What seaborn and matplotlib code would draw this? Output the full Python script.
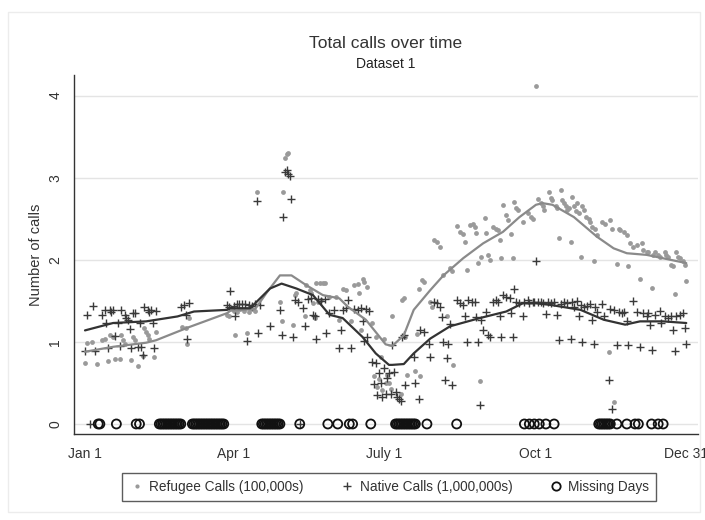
import numpy as np
import pandas as pd
import seaborn as sns
import matplotlib.pyplot as plt
from matplotlib.lines import Line2D
from matplotlib.patches import Rectangle

# day of year (0 = Jan 1) and values
ref_day = [0, 1, 4, 7, 10, 12, 14, 15, 17, 18, 21, 22, 23, 24, 28, 29, 30, 32, 35, 36,
           37, 38, 39, 42, 43, 59, 61, 62, 63, 86, 87, 89, 90, 91, 92, 94, 96, 98, 99, 101,
           103, 104, 118, 119, 120, 121, 122, 123, 126, 127, 128, 133, 134, 136, 137, 138, 139, 140, 141, 142,
           143, 144, 145, 148, 152, 154, 156, 158, 161, 163, 165, 166, 167, 168, 169, 171, 174, 175, 176, 177,
           178, 179, 180, 181, 182, 183, 184, 185, 186, 191, 192, 193, 194, 195, 200, 201, 202, 203, 204, 205,
           209, 210, 211, 213, 215, 217, 219, 221, 222, 223, 225, 227, 229, 230, 231, 233, 235, 236, 237, 238,
           239, 240, 242, 243, 244, 245, 247, 249, 250, 251, 252, 253, 255, 256, 258, 259, 260, 261, 262, 265,
           268, 270, 271, 273, 274, 276, 277, 278, 281, 282, 283, 285, 286, 287, 288, 289, 290, 291, 292, 293,
           294, 295, 296, 297, 298, 299, 300, 301, 302, 303, 305, 306, 307, 308, 309, 310, 313, 315, 317, 318,
           319, 320, 322, 323, 324, 326, 328, 329, 330, 332, 334, 336, 337, 338, 340, 341, 343, 344, 345, 347,
           348, 351, 352, 353, 355, 356, 357, 358, 359, 360, 362, 363, 364]
ref_val = [0.74, 0.99, 1.00, 0.73, 1.02, 1.03, 0.77, 1.08, 1.06, 0.79, 0.79, 1.08, 1.02, 0.98, 0.78, 1.06, 1.02, 0.71, 0.83, 1.17,
           1.12, 1.08, 1.04, 0.82, 1.12, 1.18, 1.17, 0.97, 1.29, 1.33, 1.31, 1.41, 1.38, 1.08, 1.36, 1.40, 1.38, 1.11, 1.37, 1.40,
           1.38, 2.82, 1.48, 1.25, 2.82, 3.24, 3.29, 3.30, 1.21, 1.57, 1.59, 1.32, 1.69, 1.63, 1.59, 1.47, 1.29, 1.72, 1.49, 1.72,
           1.51, 1.72, 1.72, 1.55, 1.55, 1.27, 1.65, 1.63, 1.26, 1.69, 1.71, 1.59, 1.14, 1.77, 1.73, 1.67, 1.23, 0.58, 1.06, 0.45,
           0.55, 0.82, 0.41, 1.04, 0.50, 0.60, 0.50, 0.43, 1.31, 0.37, 1.51, 1.53, 1.06, 0.60, 0.64, 1.10, 1.65, 0.58, 1.75, 1.73,
           1.49, 1.43, 2.24, 2.22, 2.16, 1.81, 1.31, 1.90, 1.86, 0.72, 2.41, 2.34, 2.32, 2.22, 1.88, 2.42, 2.44, 2.40, 2.33, 1.96,
           0.52, 2.04, 2.51, 2.33, 2.06, 2.00, 2.40, 2.38, 2.36, 2.24, 2.02, 2.67, 2.55, 2.48, 2.32, 2.02, 2.71, 2.63, 2.61, 2.46,
           2.57, 2.52, 2.50, 4.12, 2.74, 2.69, 2.65, 2.61, 2.83, 2.75, 2.73, 2.65, 2.63, 2.26, 2.85, 2.73, 2.69, 2.65, 2.61, 2.63,
           2.22, 2.77, 2.65, 2.59, 2.69, 2.57, 2.03, 2.65, 2.61, 2.52, 2.50, 2.46, 2.40, 1.98, 2.38, 2.30, 2.46, 2.44, 0.88, 2.48,
           2.38, 0.27, 1.95, 2.38, 2.36, 2.34, 2.30, 1.93, 2.21, 2.16, 2.18, 1.77, 2.20, 2.12, 2.10, 2.10, 1.66, 2.06, 2.10, 2.06,
           2.04, 2.10, 2.06, 2.04, 1.94, 1.92, 1.58, 2.10, 2.04, 2.02, 1.98, 1.94, 1.74]

nat_day = [0, 1, 3, 5, 6, 10, 12, 13, 14, 15, 16, 17, 18, 20, 21, 22, 24, 25, 26, 27,
           28, 29, 30, 32, 33, 34, 35, 36, 38, 39, 40, 41, 42, 43, 58, 60, 61, 62, 63, 86,
           87, 88, 90, 91, 92, 93, 95, 97, 98, 99, 101, 103, 104, 105, 106, 112, 118, 119, 120, 121,
           122, 123, 124, 125, 126, 127, 129, 130, 132, 133, 135, 137, 138, 139, 140, 141, 143, 145, 146, 148,
           151, 154, 155, 156, 158, 159, 161, 163, 165, 167, 168, 169, 170, 171, 172, 174, 175, 176, 177, 178,
           179, 180, 181, 182, 183, 184, 185, 186, 187, 188, 189, 190, 191, 192, 193, 194, 199, 200, 202, 203,
           205, 208, 209, 211, 213, 215, 216, 217, 218, 219, 220, 221, 222, 225, 227, 229, 230, 231, 232, 234,
           236, 237, 238, 239, 240, 241, 243, 244, 245, 247, 249, 250, 251, 252, 253, 255, 257, 258, 259, 260,
           261, 263, 265, 266, 268, 269, 271, 272, 273, 274, 276, 277, 279, 280, 282, 284, 286, 287, 288, 290,
           292, 294, 295, 296, 298, 299, 300, 301, 302, 304, 306, 307, 308, 309, 310, 313, 314, 317, 318, 319,
           320, 322, 323, 325, 326, 328, 329, 332, 334, 336, 338, 340, 341, 342, 343, 345, 348, 349, 351, 353,
           355, 356, 357, 358, 360, 362, 363, 364]
nat_val = [0.89, 1.33, 0.00, 1.44, 0.89, 1.33, 1.39, 1.23, 0.93, 1.39, 1.37, 1.39, 1.07, 1.23, 0.95, 1.39, 1.33, 1.29, 1.27, 1.16,
           0.93, 1.35, 1.35, 0.94, 1.23, 0.94, 0.84, 1.43, 1.39, 1.37, 1.39, 1.23, 0.93, 1.38, 1.43, 1.45, 1.33, 1.03, 1.47, 1.45,
           1.43, 1.62, 1.44, 1.31, 1.46, 1.46, 1.46, 1.46, 1.01, 1.45, 1.44, 1.46, 2.72, 1.11, 1.45, 1.19, 1.39, 1.08, 2.52, 3.07,
           3.09, 3.05, 3.02, 2.74, 1.06, 1.51, 1.49, 0.00, 1.41, 1.19, 1.52, 1.53, 1.33, 1.31, 1.03, 1.52, 1.50, 1.52, 1.11, 1.35,
           1.39, 0.93, 1.14, 1.39, 1.41, 1.51, 0.93, 1.40, 1.39, 1.41, 1.25, 1.01, 1.40, 1.06, 1.38, 0.75, 0.49, 0.74, 0.35, 0.62,
           0.50, 0.33, 0.68, 0.37, 0.56, 0.62, 0.37, 0.96, 0.63, 0.39, 0.33, 0.31, 0.28, 1.06, 1.08, 0.47, 0.82, 0.50, 0.30, 1.14,
           1.12, 0.98, 0.82, 1.49, 1.47, 1.43, 1.30, 1.00, 0.54, 0.80, 0.98, 1.22, 0.47, 1.51, 1.47, 1.45, 1.31, 1.00, 1.51, 1.49,
           1.49, 1.30, 1.00, 0.23, 1.27, 1.14, 1.37, 1.08, 1.06, 1.49, 1.51, 1.49, 1.31, 1.06, 1.57, 1.55, 1.53, 1.35, 1.06, 1.65,
           1.49, 1.47, 1.32, 1.49, 1.51, 1.47, 1.49, 1.48, 1.98, 1.49, 1.48, 1.47, 1.34, 1.49, 1.47, 1.48, 1.33, 1.02, 1.46, 1.48,
           1.47, 1.04, 1.48, 1.43, 1.50, 1.31, 1.45, 1.00, 1.42, 1.44, 1.46, 1.27, 0.97, 1.43, 1.37, 1.46, 1.31, 0.54, 1.40, 0.18,
           1.39, 0.96, 1.37, 1.35, 1.36, 1.25, 0.96, 1.50, 1.37, 0.94, 1.35, 1.31, 1.35, 1.21, 0.90, 1.33, 1.38, 1.23, 1.31, 1.29,
           1.31, 1.15, 0.89, 1.31, 1.33, 1.35, 1.17, 0.97]

# smoothed trend lines
ref_line_day = [0, 17, 37, 43, 63, 86, 88, 103, 110, 118, 125, 134, 144, 154, 159, 170, 182, 186, 193, 199,
                209, 217, 229, 241, 253, 263, 273, 277, 283, 296, 310, 320, 328, 340, 352, 364]
ref_line_val = [0.88, 0.94, 0.99, 1.02, 1.18, 1.35, 1.38, 1.40, 1.60, 1.81, 1.81, 1.69, 1.57, 1.53, 1.43, 1.27, 0.97, 0.95, 1.08, 1.39,
                1.63, 1.81, 2.02, 2.20, 2.34, 2.52, 2.67, 2.69, 2.67, 2.52, 2.28, 2.14, 2.08, 2.06, 2.01, 1.96]
nat_line_day = [0, 17, 37, 56, 66, 86, 88, 100, 112, 119, 128, 138, 148, 156, 168, 176, 184, 186, 193, 199,
                209, 221, 239, 255, 265, 273, 282, 300, 314, 327, 336, 350, 364]
nat_line_val = [1.14, 1.23, 1.25, 1.31, 1.37, 1.39, 1.41, 1.41, 1.65, 1.71, 1.65, 1.57, 1.33, 1.29, 1.06, 0.86, 0.72, 0.72, 0.73, 0.86,
                1.04, 1.19, 1.29, 1.37, 1.47, 1.47, 1.45, 1.39, 1.27, 1.21, 1.25, 1.25, 1.23]

# days with no data
miss_day = [8, 9, 19, 31, 33,
            45, 46, 47, 48, 49, 50, 51, 52, 53, 54, 55, 56, 57, 58,
            65, 66, 67, 68, 69, 70, 71, 72, 73, 74, 75, 76, 77, 78, 79, 80, 81, 82, 83, 84,
            107, 108, 109, 110, 111, 112, 113, 114, 115, 116, 117, 118,
            130, 147, 153, 160, 162, 173,
            188, 189, 190, 191, 192, 193, 194, 195, 196, 197, 198, 199, 200,
            207, 225, 266, 269, 272, 275, 279, 284,
            311, 312, 313, 314, 315, 316, 317, 318,
            322, 328, 333, 335, 343, 347, 350]
miss_val = [0] * len(miss_day)

xtick_pos = [0, 90, 181, 273, 364]
xtick_lab = ["Jan 1", "Apr 1", "July 1", "Oct 1", "Dec 31"]

sns.set_style("white")
plt.rcParams['font.family'] = ['Liberation Sans', 'DejaVu Sans']
txt = '#333333'

fig = plt.figure(figsize=(7.05, 5.2), dpi=100)
ax = fig.add_axes([74/705, 1-434/520, 624/705, 359/520])

# outer light frame
fig.patches.append(Rectangle((8/705, 8/520), 692/705, 500/520, transform=fig.transFigure,
                             fill=False, edgecolor='#ececec', linewidth=1))

for yv in [0, 1, 2, 3, 4]:
    ax.axhline(yv, color='#e4e4e4', linewidth=1, zorder=0)

sns.scatterplot(x=ref_day, y=ref_val, ax=ax, color='#9a9a9a', s=12, linewidth=0, legend=False, zorder=2)
sns.scatterplot(x=nat_day, y=nat_val, ax=ax, color='#3a3a3a', marker='+', s=32, linewidth=1.0, legend=False, zorder=3)
sns.scatterplot(x=miss_day, y=miss_val, ax=ax, marker='o', s=42, facecolors='none', edgecolor='#111111',
                linewidth=1.3, legend=False, zorder=4)

sns.lineplot(x=ref_line_day, y=ref_line_val, ax=ax, color='#8a8a8a', linewidth=1.6, zorder=5)
sns.lineplot(x=nat_line_day, y=nat_line_val, ax=ax, color='#333333', linewidth=1.6, zorder=6)

ax.set_xlim(-6.66, 371.1)
ax.set_ylim(-0.122, 4.251)
ax.set_xticks(xtick_pos)
ax.set_xticklabels(xtick_lab)
ax.set_yticks([0, 1, 2, 3, 4])
ax.set_yticklabels(['0', '1', '2', '3', '4'], rotation=90, va='center')
ax.tick_params(axis='both', direction='out', length=5.5, width=1, color='#333333', labelsize=10,
               labelcolor=txt, pad=3)
ax.tick_params(axis='x', pad=4)
ax.set_xlabel('')
ax.set_ylabel('Number of calls', fontsize=10.5, color=txt, labelpad=4)
for side in ['top', 'right']:
    ax.spines[side].set_visible(False)
for side in ['left', 'bottom']:
    ax.spines[side].set_color('#333333')
    ax.spines[side].set_linewidth(1)

fig.text(386/705, 1-43/520, 'Total calls over time', ha='center', va='center', fontsize=12.5, color=txt)
fig.text(386/705, 1-64/520, 'Dataset 1', ha='center', va='center', fontsize=10, color='#222222')

handles = [
    Line2D([], [], linestyle='none', marker='o', markersize=3, color='#9a9a9a', markeredgewidth=0),
    Line2D([], [], linestyle='none', marker='+', markersize=6, color='#3a3a3a', markeredgewidth=1),
    Line2D([], [], linestyle='none', marker='o', markersize=6, markerfacecolor='none',
           markeredgecolor='#111111', markeredgewidth=1.3),
]
labels = ['Refugee Calls (100,000s)', 'Native Calls (1,000,000s)', 'Missing Days']
leg = fig.legend(handles, labels, loc='center', bbox_to_anchor=(389/705, 1-487/520), ncol=3,
                 frameon=True, fancybox=False, edgecolor='#333333', fontsize=9.8,
                 handletextpad=0.3, columnspacing=2.6, borderpad=0.5, handlelength=1.2)
leg.get_frame().set_linewidth(1)
for t in leg.get_texts():
    t.set_color(txt)

fig.savefig('out.png', dpi=100)
